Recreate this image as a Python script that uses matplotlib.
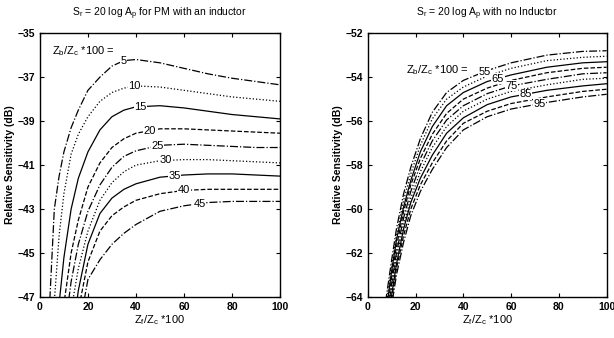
import matplotlib.pyplot as plt

plt.rcParams.update({'font.family': 'Liberation Sans', 'font.size': 7.5,
                     'mathtext.fontset': 'custom', 'mathtext.rm': 'Liberation Sans',
                     'mathtext.it': 'Liberation Sans', 'mathtext.bf': 'Liberation Sans:bold'})

# left panel: PM with an inductor, one curve per Zb/Zc*100
x_left = [2, 4, 6, 8, 10, 13, 16, 20, 25, 30, 35, 40, 50, 60, 70, 80, 90, 100]
left_levels = [5, 10, 15, 20, 25, 30, 35, 40, 45]
s_5 = [-52, -47.4, -43.0, -41.5, -40.4, -39.3, -38.5, -37.6, -37.0, -36.5, -36.25, -36.2, -36.35, -36.6, -36.85, -37.05, -37.2, -37.35]
s_10 = [-56, -51, -47.2, -44.2, -42.3, -40.5, -39.6, -38.8, -38.1, -37.7, -37.5, -37.4, -37.45, -37.6, -37.75, -37.9, -38.0, -38.1]
s_15 = [-62, -55, -50, -47.3, -45.2, -43.0, -41.6, -40.4, -39.4, -38.8, -38.5, -38.35, -38.3, -38.4, -38.55, -38.7, -38.8, -38.9]
s_20 = [-66, -58, -53, -49.5, -47.3, -45.0, -43.5, -42.0, -40.9, -40.2, -39.8, -39.55, -39.35, -39.35, -39.4, -39.45, -39.5, -39.55]
s_25 = [-70, -61, -55.5, -51.5, -48.8, -46.3, -44.6, -43.1, -41.9, -41.1, -40.6, -40.35, -40.1, -40.05, -40.1, -40.15, -40.2, -40.2]
s_30 = [-74, -64, -58, -53.8, -50.6, -47.6, -45.7, -44.0, -42.6, -41.8, -41.3, -41.0, -40.8, -40.75, -40.75, -40.8, -40.85, -40.9]
s_35 = [-78, -67, -60.5, -56, -52.5, -49.2, -46.7, -44.6, -43.2, -42.5, -42.1, -41.85, -41.55, -41.45, -41.4, -41.4, -41.45, -41.5]
s_40 = [-82, -70, -63, -58.2, -54.6, -51, -47.6, -45.4, -44.0, -43.3, -42.9, -42.6, -42.3, -42.15, -42.1, -42.1, -42.1, -42.1]
s_45 = [-86, -73, -65.5, -60.5, -56.6, -52.6, -48.6, -46.2, -45.3, -44.6, -44.1, -43.7, -43.1, -42.85, -42.7, -42.65, -42.65, -42.65]
left_curves = [s_5, s_10, s_15, s_20, s_25, s_30, s_35, s_40, s_45]
left_label_x = [35, 39.5, 42, 45.5, 49, 52.5, 56, 60, 66.5]

# right panel: no inductor
x_right = [6, 8, 10, 12, 15, 18, 22, 27, 33, 40, 50, 60, 75, 90, 100]
right_levels = [55, 60, 65, 70, 75, 80, 85, 90, 95]
r_55 = [-65.4, -63.8, -62.3, -60.9, -59.3, -58.1, -56.8, -55.6, -54.7, -54.15, -53.7, -53.35, -53.0, -52.83, -52.8]
r_60 = [-65.8, -64.1, -62.6, -61.2, -59.6, -58.4, -57.1, -55.9, -55.0, -54.45, -53.95, -53.6, -53.25, -53.1, -53.05]
r_65 = [-66.2, -64.4, -62.8, -61.4, -59.9, -58.7, -57.4, -56.25, -55.3, -54.7, -54.2, -53.9, -53.55, -53.35, -53.3]
r_70 = [-66.6, -64.7, -63.1, -61.7, -60.1, -58.9, -57.7, -56.6, -55.65, -55.0, -54.5, -54.15, -53.8, -53.6, -53.55]
r_75 = [-67.0, -65.0, -63.4, -62.0, -60.4, -59.2, -58.0, -56.9, -55.95, -55.3, -54.75, -54.4, -54.1, -53.85, -53.8]
r_80 = [-67.3, -65.3, -63.6, -62.2, -60.7, -59.5, -58.3, -57.2, -56.25, -55.55, -55.0, -54.65, -54.35, -54.1, -54.05]
r_85 = [-67.7, -65.6, -63.9, -62.5, -60.9, -59.7, -58.6, -57.55, -56.55, -55.85, -55.25, -54.9, -54.6, -54.4, -54.3]
r_90 = [-68.1, -65.9, -64.1, -62.7, -61.2, -60.0, -58.9, -57.9, -56.9, -56.1, -55.55, -55.2, -54.9, -54.65, -54.55]
r_95 = [-68.5, -66.2, -64.4, -63.0, -61.5, -60.3, -59.2, -58.2, -57.2, -56.4, -55.8, -55.45, -55.15, -54.9, -54.78]
right_curves = [r_55, r_60, r_65, r_70, r_75, r_80, r_85, r_90, r_95]
right_label_x = {55: 49, 65: 54.5, 75: 60, 85: 66, 95: 72}

styles = ['-.', ':', '-', '--']


def interp_y(xs, ys, x0):
    for i in range(len(xs) - 1):
        if xs[i] <= x0 <= xs[i + 1]:
            t = (x0 - xs[i]) / (xs[i + 1] - xs[i])
            return ys[i] + t * (ys[i + 1] - ys[i])
    return ys[-1]


def style_axes(ax, ylim, yticks):
    ax.set_xlim(0, 100)
    ax.set_ylim(*ylim)
    ax.set_xticks([0, 20, 40, 60, 80, 100])
    ax.set_yticks(yticks)
    ax.tick_params(direction='in', top=True, right=True, length=3, width=0.8, labelsize=7.5)
    for lab in ax.get_xticklabels() + ax.get_yticklabels():
        lab.set_fontweight('bold')
    for sp in ax.spines.values():
        sp.set_linewidth(1.0)
    ax.set_ylabel('Relative Sensitivity (dB)', fontsize=7.5, fontweight='bold', labelpad=2)
    ax.set_xlabel(r'Z$_f$/Z$_c$ *100', fontsize=8, labelpad=1)


fig = plt.figure(figsize=(6.14, 3.38), dpi=100)
ax1 = fig.add_axes([0.065, 0.121, 0.391, 0.781])
ax2 = fig.add_axes([0.599, 0.121, 0.389, 0.781])

lab_box = dict(facecolor='white', edgecolor='none', pad=0.3)

for i, (lev, ys) in enumerate(zip(left_levels, left_curves)):
    ax1.plot(x_left, ys, color='black', lw=0.9, ls=styles[i % 4])
    lx = left_label_x[i]
    ax1.text(lx, interp_y(x_left, ys, lx), str(lev), ha='center', va='center',
             fontsize=8, bbox=lab_box)
ax1.text(5, -35.8, r'Z$_b$/Z$_c$ *100 =', fontsize=8, va='center')
style_axes(ax1, (-47, -35), list(range(-47, -34, 2)))
ax1.set_title(r'S$_r$ = 20 log A$_p$ for PM with an inductor', fontsize=7.5, pad=12)

for i, (lev, ys) in enumerate(zip(right_levels, right_curves)):
    ax2.plot(x_right, ys, color='black', lw=0.9, ls=styles[i % 4])
    if lev in right_label_x:
        lx = right_label_x[lev]
        ax2.text(lx, interp_y(x_right, ys, lx), str(lev), ha='center', va='center',
                 fontsize=8, bbox=lab_box)
ax2.text(16, -53.7, r'Z$_b$/Z$_c$ *100 =', fontsize=8, va='center')
style_axes(ax2, (-64, -52), list(range(-64, -51, 2)))
ax2.set_title(r'S$_r$ = 20 log A$_p$ with no Inductor', fontsize=7.5, pad=12)

fig.savefig('out.png', dpi=100)
